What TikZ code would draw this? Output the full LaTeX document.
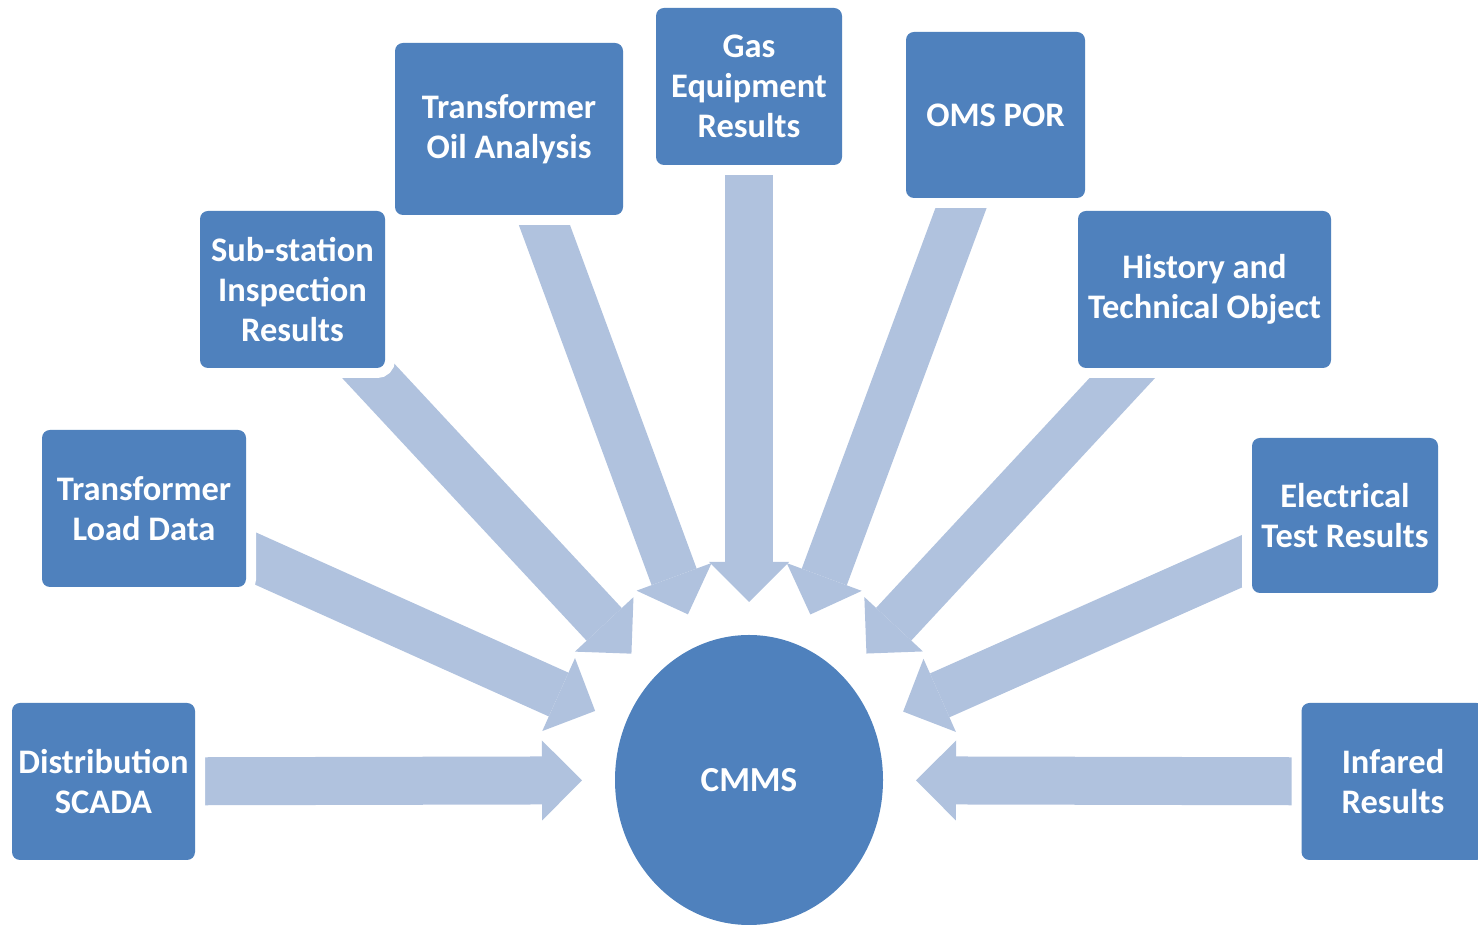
\documentclass[tikz,border=0pt]{standalone}
\usepackage{fontspec}
\setmainfont{Carlito}
\usetikzlibrary{shapes.geometric,arrows.meta,backgrounds}

\definecolor{boxblue}{RGB}{79,129,189}
\definecolor{arrowblue}{RGB}{176,194,222}

\tikzset{
  source/.style={rectangle, rounded corners=0.08cm, fill=boxblue, text=white,
    preaction={draw=white, line width=0.2cm},
    font=\bfseries\fontsize{9.8}{11.4}\selectfont, align=center,
    minimum width=1.85cm, minimum height=1.57cm, inner sep=0pt, outer sep=0pt},
  hub/.style={ellipse, fill=boxblue, text=white,
    font=\bfseries\fontsize{10}{12}\selectfont,
    minimum width=2.68cm, minimum height=2.9cm, inner sep=0pt, outer sep=0pt},
  feed/.style={draw=arrowblue, line width=0.48cm, shorten >=0.33cm,
    -{Triangle[length=0.4cm, width=0.8cm, line width=0pt]}}
}

\begin{document}
\begin{tikzpicture}

  \useasboundingbox (0,0) rectangle (14.78,9.27);

  % Central system
  \node[hub] (cmms) at (7.49,1.47) {CMMS};

  % Data sources, left to right
  \node[source, minimum width=1.83cm] (scada) at (1.035,1.455) {Distribution\\SCADA};
  \node[source, minimum width=2.04cm] (load) at (1.44,4.185) {Transformer\\Load Data};
  \node[source] (subst) at (2.925,6.375) {Sub-station\\Inspection\\Results};
  \node[source, minimum width=2.28cm, minimum height=1.72cm] (oil) at (5.09,7.98) {Transformer\\Oil Analysis};
  \node[source, minimum width=1.86cm] (gas) at (7.49,8.405) {Gas\\Equipment\\Results};
  \node[source, minimum width=1.79cm, minimum height=1.66cm] (oms) at (9.955,8.12) {OMS POR};
  \node[source, minimum width=2.53cm] (hist) at (12.045,6.375) {History and\\Technical Object};
  \node[source, minimum width=1.86cm, minimum height=1.55cm] (elec) at (13.45,4.115) {Electrical\\Test Results};
  \node[source, minimum width=1.83cm] (infr) at (13.93,1.455) {Infared\\Results};

  % Block arrows into CMMS, behind the boxes
  \begin{scope}[on background layer]
    \foreach \src in {scada,load,subst,oil,gas,oms,hist,elec,infr}
      \draw[feed] (\src.center) -- (cmms);
  \end{scope}

\end{tikzpicture}
\end{document}
